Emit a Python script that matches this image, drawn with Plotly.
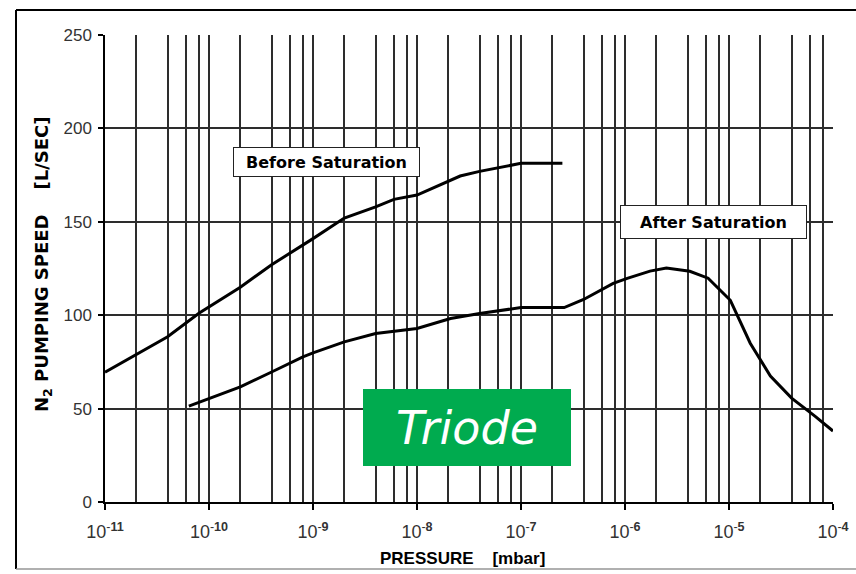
import plotly.graph_objects as go

# ---- data ----
before_p = [1e-11, 2e-11, 4e-11, 8e-11, 2e-10, 4e-10, 8e-10, 1e-9, 2e-9, 4e-9,
            6e-9, 1e-8, 2.6e-8, 4e-8, 1e-7, 2.5e-7]
before_s = [69.5, 79, 88.5, 101, 115, 127, 137.5, 141, 152, 158,
            162, 164.3, 174.5, 177, 181.3, 181.3]

after_p = [6.4e-11, 1e-10, 2e-10, 4e-10, 8e-10, 1e-9, 2e-9, 4e-9, 8e-9, 1e-8,
           2.1e-8, 4e-8, 1e-7, 2.6e-7, 4e-7, 7.7e-7, 1.05e-6, 1.74e-6, 2.5e-6,
           4.2e-6, 6.3e-6, 1.03e-5, 1.6e-5, 2.5e-5, 4e-5, 6.7e-5, 1e-4]
after_s = [51.3, 55.3, 61.6, 69.6, 77.7, 79.8, 85.7, 90.2, 92.3, 92.9,
           98.2, 100.9, 104.1, 104.1, 108.4, 117, 119.7, 123.6, 125.2,
           123.5, 119.8, 108, 85, 67.4, 55.6, 46, 38]

decade_exps = [-11, -10, -9, -8, -7, -6, -5, -4]
decade_vals = [10.0 ** e for e in decade_exps]
decade_text = ["10<sup>-<b>%d</b></sup>" % (-e) for e in decade_exps]
minor_mults = [2, 4, 6, 8]
minor_vals = [m * 10.0 ** e for e in decade_exps[:-1] for m in minor_mults]
y_ticks = [0, 50, 100, 150, 200, 250]

# ---- layout geometry ----
W, H = 856, 574
L, R, T, B = 105, 23, 35, 72
PW, PH = W - L - R, H - T - B


def px(x):
    return (x - L) / PW


def py(y):
    return (H - B - y) / PH


GRID = "rgb(45,45,45)"
FONT = "Liberation Sans"
WIDE = "DejaVu Sans"

fig = go.Figure()
fig.add_trace(go.Scatter(x=before_p, y=before_s, mode="lines",
                         line=dict(color="black", width=3), showlegend=False))
fig.add_trace(go.Scatter(x=after_p, y=after_s, mode="lines",
                         line=dict(color="black", width=3), showlegend=False))

fig.update_layout(
    width=W, height=H,
    margin=dict(l=L, r=R, t=T, b=B, autoexpand=False),
    paper_bgcolor="white", plot_bgcolor="white",
    showlegend=False,
    xaxis=dict(
        type="log", range=[-11, -4], automargin=False,
        tickmode="array", tickvals=decade_vals, ticktext=decade_text,
        ticks="outside", ticklen=6, tickwidth=1.5, tickcolor="black",
        ticklabelstandoff=7,
        showgrid=True, gridcolor=GRID, gridwidth=1.5,
        showline=True, linecolor="black", linewidth=1.5,
        tickfont=dict(family=FONT, size=18, color="#333"),
        minor=dict(tickmode="array", tickvals=minor_vals, showgrid=True,
                   gridcolor=GRID, gridwidth=1.5, ticks=""),
        zeroline=False,
    ),
    yaxis=dict(
        range=[0, 250], tickmode="array", tickvals=y_ticks, automargin=False,
        ticks="outside", ticklen=5, tickwidth=1.5, tickcolor="black",
        ticklabelstandoff=3,
        showgrid=True, gridcolor=GRID, gridwidth=1.5,
        showline=True, linecolor="black", linewidth=1.5,
        tickfont=dict(family=FONT, size=17, color="#333"),
        zeroline=False,
    ),
)

annotations = [
    dict(text="N<sub>2</sub> PUMPING SPEED\u00a0\u00a0\u00a0\u00a0[L/SEC]",
         x=px(43), y=py(264), textangle=-90,
         font=dict(family=WIDE, size=18, color="black", weight="bold")),
    dict(text="PRESSURE\u00a0\u00a0\u00a0\u00a0[mbar]",
         x=px(462), y=py(558),
         font=dict(family=FONT, size=17, color="black", weight="bold")),
    dict(text="Before Saturation", x=px(326.5), y=py(162),
         font=dict(family=WIDE, size=16, color="black", weight="bold"),
         bgcolor="white", bordercolor="#222", borderwidth=1,
         width=181, height=24, borderpad=2),
    dict(text="After Saturation", x=px(713.5), y=py(222),
         font=dict(family=WIDE, size=16, color="black", weight="bold"),
         bgcolor="white", bordercolor="#222", borderwidth=1,
         width=181, height=28, borderpad=2),
    dict(text="<i>Triode</i>", x=px(467), y=py(427.5),
         font=dict(family="DejaVu Sans", size=46, color="white"),
         bgcolor="#00AB4F", borderwidth=0, borderpad=0,
         width=208, height=77),
]
for a in annotations:
    a.update(xref="paper", yref="paper", showarrow=False,
             xanchor="center", yanchor="middle")
fig.update_layout(annotations=annotations)

# outer frame
frame = [
    (16, 10, W + 5, 10, "black", 2),
    (16, 10, 16, 569, "black", 2),
    (16, 569, W + 5, 569, "rgb(150,150,150)", 1.5),
]
for x0, y0, x1, y1, c, w in frame:
    fig.add_shape(type="line", xref="paper", yref="paper",
                  x0=px(x0), y0=py(y0), x1=px(x1), y1=py(y1),
                  line=dict(color=c, width=w))

fig.write_html("out.html")
